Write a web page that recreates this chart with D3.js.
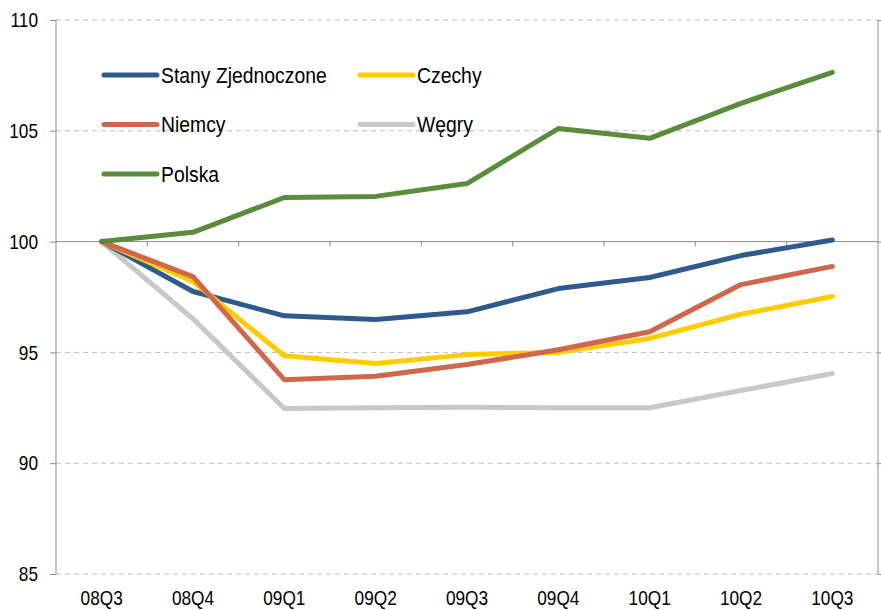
<!DOCTYPE html>
<meta charset="utf-8">
<style>
body { margin: 0; background: #fff; }
svg text { font-family: "Liberation Sans", Arial, sans-serif; fill: #000; }
</style>
<svg width="881" height="610"></svg>
<script src="https://d3js.org/d3.v7.min.js"></script>
<script>

var quarters = ["08Q3", "08Q4", "09Q1", "09Q2", "09Q3", "09Q4", "10Q1", "10Q2", "10Q3"];
var yTicks = [85, 90, 95, 100, 105, 110];

var usa     = [100, 97.75, 96.65, 96.48, 96.83, 97.88, 98.38, 99.37, 100.07];
var czechy  = [100, 98.2, 94.85, 94.5, 94.9, 95.0, 95.63, 96.72, 97.52];
var niemcy  = [100, 98.42, 93.77, 93.92, 94.45, 95.12, 95.93, 98.06, 98.88];
var wegry   = [100, 96.52, 92.47, 92.5, 92.52, 92.5, 92.5, 93.28, 94.05];
var polska  = [100, 100.42, 101.99, 102.04, 102.62, 105.1, 104.66, 106.24, 107.64];

var series = [
  {name: "Węgry", values: wegry, color: "#c8c8c8"},
  {name: "Stany Zjednoczone", values: usa, color: "#2f5a8e"},
  {name: "Czechy", values: czechy, color: "#ffcc00"},
  {name: "Niemcy", values: niemcy, color: "#d0674b"},
  {name: "Polska", values: polska, color: "#5a8c3c"}
];

var legendItems = [
  {name: "Stany Zjednoczone", col: 0, row: 0},
  {name: "Czechy", col: 1, row: 0},
  {name: "Niemcy", col: 0, row: 1},
  {name: "Węgry", col: 1, row: 1},
  {name: "Polska", col: 0, row: 2}
];

var svg = d3.select("svg"),
    margin = {top: 20, right: 3, bottom: 36, left: 56},
    width = +svg.attr("width") - margin.left - margin.right,
    height = +svg.attr("height") - margin.top - margin.bottom;

var x = d3.scaleBand().domain(quarters).range([0, width]);
var y = d3.scaleLinear().domain([85, 110]).range([height, 0]);

// squeeze text to look like a narrow face
function narrow(sel, k) {
  sel.each(function() {
    var w = this.getComputedTextLength();
    d3.select(this).attr("textLength", w * k).attr("lengthAdjust", "spacingAndGlyphs");
  });
}

var g = svg.append("g")
    .attr("transform", "translate(" + margin.left + "," + margin.top + ")");

// dashed grid
g.selectAll(".grid")
  .data(yTicks.filter(function(d) { return d != 100; }))
  .enter().append("line")
    .attr("x1", 0).attr("x2", width)
    .attr("y1", function(d) { return y(d); })
    .attr("y2", function(d) { return y(d); })
    .attr("stroke", "#bdbdbd")
    .attr("stroke-dasharray", "5,4");

// left axis
var yAxis = g.append("g")
    .call(d3.axisLeft(y).tickValues(yTicks).tickSize(6).tickPadding(12));
yAxis.select(".domain").attr("stroke", "#8c8c8c").attr("d", "M0," + y(110) + "V" + y(85));
yAxis.selectAll(".tick line").attr("stroke", "#8c8c8c");
yAxis.selectAll("text").style("font-size", "21px").call(narrow, 0.82);

// right axis
var yAxisR = g.append("g")
    .attr("transform", "translate(" + width + ",0)")
    .call(d3.axisRight(y).tickValues(yTicks).tickSize(4).tickFormat(""));
yAxisR.select(".domain").attr("stroke", "#8c8c8c").attr("d", "M0," + y(110) + "V" + y(85));
yAxisR.selectAll(".tick line").attr("stroke", "#8c8c8c");

// category axis crossing at 100
g.append("line")
    .attr("x1", 0).attr("x2", width)
    .attr("y1", y(100)).attr("y2", y(100))
    .attr("stroke", "#8c8c8c");
g.selectAll(".ctick")
  .data(quarters.slice(1))
  .enter().append("line")
    .attr("x1", function(d) { return x(d); })
    .attr("x2", function(d) { return x(d); })
    .attr("y1", y(100)).attr("y2", y(100) + 5)
    .attr("stroke", "#8c8c8c");

// category labels at bottom
g.selectAll(".clabel")
  .data(quarters)
  .enter().append("text")
    .attr("x", function(d) { return x(d) + x.bandwidth() / 2; })
    .attr("y", height + 31)
    .attr("text-anchor", "middle")
    .style("font-size", "21px")
    .text(function(d) { return d; })
    .call(narrow, 0.82);

var line = d3.line()
    .x(function(d, i) { return x(quarters[i]) + x.bandwidth() / 2; })
    .y(function(d) { return y(d); });

g.selectAll(".series")
  .data(series)
  .enter().append("path")
    .attr("fill", "none")
    .attr("stroke", function(d) { return d.color; })
    .attr("stroke-width", 5)
    .attr("stroke-linejoin", "round")
    .attr("stroke-linecap", "round")
    .attr("d", function(d) { return line(d.values); });

// legend
var colorOf = {};
series.forEach(function(s) { colorOf[s.name] = s.color; });

var leg = svg.selectAll(".leg")
  .data(legendItems)
  .enter().append("g")
    .attr("transform", function(d) { return "translate(" + (104 + d.col * 256) + "," + (75 + d.row * 49.5) + ")"; });
leg.append("line")
    .attr("x1", 0).attr("x2", 53)
    .attr("stroke", function(d) { return colorOf[d.name]; })
    .attr("stroke-width", 5)
    .attr("stroke-linecap", "round");
leg.append("text")
    .attr("x", 57)
    .attr("dy", "0.35em")
    .style("font-size", "22px")
    .text(function(d) { return d.name; })
    .call(narrow, 0.88);

</script>
